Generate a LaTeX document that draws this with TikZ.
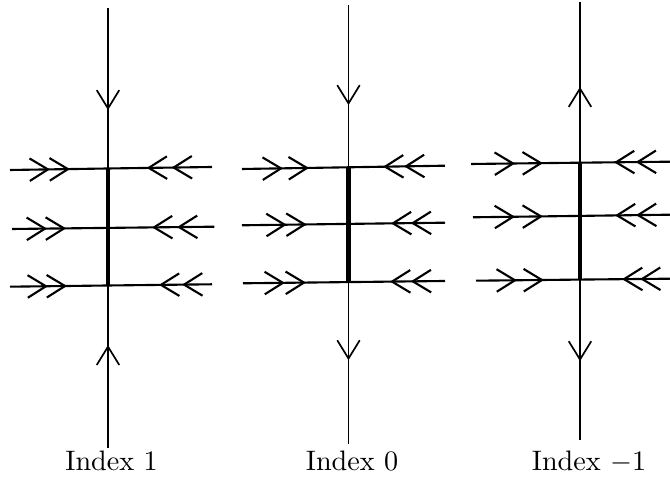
\documentclass[tikz,border=0pt]{standalone}
\usetikzlibrary{arrows.meta, decorations.markings}
\tikzset{
  barb/.tip={Straight Barb[length=6.5pt, width=8pt]},
  axis/.style={line width=0.6pt},
  flow/.style={line width=0.75pt},
  wall/.style={line width=1.5pt},
  down at/.style={postaction={decorate, decoration={markings,
      mark=at position #1 with {\arrow{barb}}}}},
  up at/.style={postaction={decorate, decoration={markings,
      mark=at position #1 with {\arrowreversed{barb}}}}},
  inflow/.style 2 args={postaction={decorate, decoration={markings,
      mark=at position #1 with {\arrow{barb}},
      mark=at position #2 with {\arrow{barb}}}}},
}
\begin{document}
\begin{tikzpicture}[x=0.355pt, y=-0.355pt]
  \useasboundingbox (0,0) rectangle (670,478);

  % vertical axes
  \coordinate (top1) at (108,8);   \coordinate (bot1) at (108,448);
  \coordinate (top2) at (348.5,5); \coordinate (bot2) at (348.5,444);
  \coordinate (top3) at (580,2);   \coordinate (bot3) at (580,440);
  \draw[axis, down at=0.232, up at=0.766] (top1) -- (bot1);
  \draw[axis, down at=0.228, down at=0.809] (top2) -- (bot2);
  \draw[axis, up at=0.194, down at=0.82] (top3) -- (bot3);

  % horizontal lines, flowing in from both sides
  \foreach \n/\lx/\ly/\cx/\cy/\rx/\ry/\la/\lb/\ra/\rb in {
      11/10/170/108/168.5/212/167/0.408/0.612/0.388/0.628,
      12/12/229/108/227.9/214.3/226.7/0.365/0.563/0.351/0.586,
      13/10/286.7/108/285.5/212/284.3/0.388/0.582/0.288/0.51,
      21/242/169/348.5/167.3/445/165.7/0.385/0.629/0.425/0.642,
      22/242/225.3/348.5/223.9/445/222.7/0.42/0.607/0.355/0.56,
      23/243/283.3/348.5/282.1/445/281/0.398/0.597/0.355/0.57,
      31/471/164/580/162.7/670/161.7/0.404/0.66/0.381/0.622,
      32/473/217.3/580/215.9/670/214.7/0.393/0.654/0.378/0.611,
      33/476/280.7/580/279.6/670/278.7/0.394/0.654/0.333/0.533}{
    \coordinate (l\n) at (\lx,\ly);
    \coordinate (c\n) at (\cx,\cy);
    \coordinate (r\n) at (\rx,\ry);
    \draw[flow, inflow={\la}{\lb}] (l\n) -- (c\n);
    \draw[flow, inflow={\ra}{\rb}] (r\n) -- (c\n);
  }

  % thick segments
  \draw[wall] (c11) -- (c13);
  \draw[wall] (c21) -- (c23);
  \draw[wall] (c31) -- (c33);

  % labels
  \node (idx1) [anchor=base] at (111.5,471) {Index 1};
  \node (idx2) [anchor=base] at (352,471) {Index 0};
  \node (idx3) [anchor=base] at (589,471) {Index $-1$};
\end{tikzpicture}
\end{document}
